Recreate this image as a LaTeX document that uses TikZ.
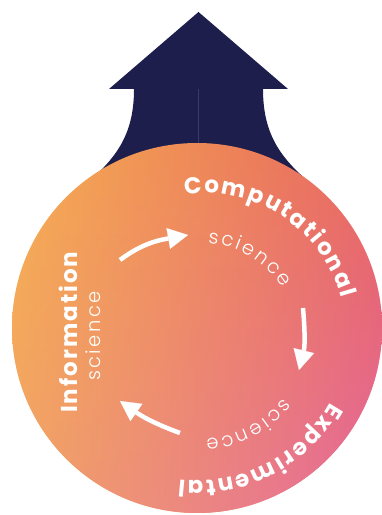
\documentclass[tikz,border=0pt]{standalone}
\usepackage{fontspec}
\usetikzlibrary{calc,arrows.meta,fadings}
\newfontfamily\popfam{Poppins}
\newfontfamily\poplight{Poppins Light}
\definecolor{navy}{HTML}{1D1E4C}
\definecolor{navyline}{HTML}{3A3B68}
\definecolor{cTL}{HTML}{F6AE50}
\definecolor{cTR}{HTML}{E8665E}
\definecolor{cBL}{HTML}{F2A468}
\definecolor{cBR}{HTML}{E5689E}
\tikzfading[name=fadedown, top color=transparent!100, bottom color=transparent!0]
\newcommand\fB{\popfam\bfseries\fontsize{23}{27}\selectfont}
\newcommand\fL{\poplight\fontsize{19.5}{23}\selectfont}
\tikzset{
  lettr/.style={text=white, inner sep=0pt, outer sep=0pt},
  whitearrow/.style={draw=white, line width=4.5pt,
    -{Triangle[length=20pt,width=21pt,line width=0.1pt]}},
}
\let\awselectfont\selectfont
\newbox\awbox
\makeatletter
\newcommand\awmeasure[2]{% #1 font, #2 char -> \awwid (plain number, pt)
  \setbox\awbox=\hbox{\let\selectfont\awselectfont #1#2}\dimen@=\wd\awbox\xdef\awwid{\strip@pt\dimen@}}
\makeatother
% #1 prefix, #2 center, #3 radius, #4 mid angle, #5 font, #6 tracking, #7 letters
\newcommand\arcword[7]{%
  \gdef\awsum{0}%
  \foreach \ch in {#7}{%
    \awmeasure{#5}{\ch}%
    \pgfmathparse{\awsum+\awwid+#6}\global\let\awsum\pgfmathresult}%
  \pgfmathparse{#4+(\awsum-#6)/2/#3*180/pi}\global\let\awang\pgfmathresult
  \foreach \ch [count=\idx] in {#7}{%
    \awmeasure{#5}{\ch}%
    \pgfmathsetmacro\thisang{\awang-(\awwid/2)/#3*180/pi}%
    \node[lettr, font=#5, anchor=base, rotate=\thisang-90] (#1\idx) at ($(#2)+(\thisang:#3)$) {\ch};
    \pgfmathparse{\awang-(\awwid+#6)/#3*180/pi}\global\let\awang\pgfmathresult
  }%
}
% #1 prefix, #2 start, #3 direction, #4 font, #5 tracking, #6 letters
\newcommand\lineword[6]{%
  \gdef\lwpos{0}%
  \foreach \ch [count=\idx] in {#6}{%
    \awmeasure{#4}{\ch}%
    \node[lettr, font=#4, anchor=base west, rotate=#3] (#1\idx) at ($(#2)+(#3:\lwpos)$) {\ch};
    \pgfmathparse{\lwpos+\awwid+#5}\global\let\lwpos\pgfmathresult
  }%
}
\begin{document}
\begin{tikzpicture}[x=1pt,y=1pt]
\useasboundingbox (0,0) rectangle (381,515);
\coordinate (C0) at (197,187);
\coordinate (C1) at (204,180);
% navy arrow
\fill[navy] (109,426) -- (198.5,503) -- (288,426) -- (263,426)
  .. controls (263,385) and (277,360) .. (309,333) -- (260,250) -- (137,250)
  -- (88,333) .. controls (120,360) and (134,385) .. (134,426) -- cycle;
\draw[navyline, line width=0.5pt] (198.5,426) -- (198.5,372);
% circle
\shade[left color=cTL, right color=cTR] (C0) circle[radius=185];
\shade[left color=cBL, right color=cBR, path fading=fadedown] (C0) circle[radius=185];
% arrows
\coordinate (a1s) at (120,255); \coordinate (a1e) at (188,280);
\coordinate (a2s) at (303,207); \coordinate (a2e) at (299,145);
\coordinate (a3s) at (180,82);  \coordinate (a3e) at (120,114);
\draw[whitearrow] (a1s) to[out=37, in=190] (a1e);
\draw[whitearrow] (a2s) to[out=-85, in=76] (a2e);
\draw[whitearrow] (a3s) to[out=160, in=-35] (a3e);
% texts
\arcword{comp}{C1}{142}{56.4}{\fB}{2}{C,o,m,p,u,t,a,t,i,o,n,a,l}
\arcword{csci}{C1}{91.5}{59.3}{\fL}{2.5}{s,c,i,e,n,c,e}
\arcword{expe}{C0}{152.5}{-62.9}{\fB}{2}{E,x,p,e,r,i,m,e,n,t,a,l}
\arcword{esci}{C0}{111.5}{-62.3}{\fL}{2.5}{s,c,i,e,n,c,e}
\coordinate (i0) at (77,102);
\coordinate (s0) at (100,134);
\lineword{info}{i0}{90}{\fB}{2}{I,n,f,o,r,m,a,t,i,o,n}
\lineword{isci}{s0}{90}{\fL}{2.5}{s,c,i,e,n,c,e}
\end{tikzpicture}
\end{document}
